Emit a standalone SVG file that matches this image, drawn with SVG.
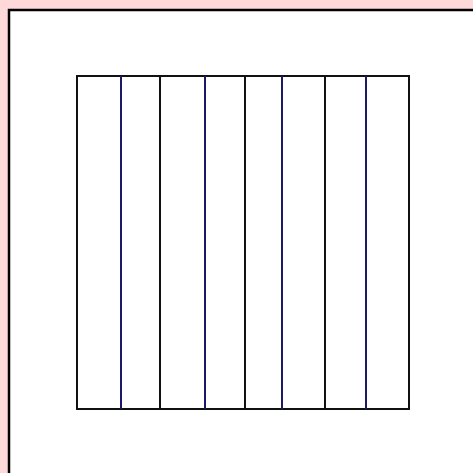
<svg xmlns="http://www.w3.org/2000/svg" width="473" height="473" viewBox="0 0 473 473">
<style>
.k{stroke:#111;stroke-width:2;fill:none}
.b{stroke:#1c1a66;stroke-width:2;fill:none}
</style>
<rect x="0" y="0" width="473" height="473" fill="#ffd9d9"/>
<rect x="9" y="10" width="480" height="480" fill="#fff" stroke="#000" stroke-width="2.5"/>
<g id="grid">
<rect class="k" x="77" y="76" width="332" height="333"/>
<line class="b" x1="121" y1="76" x2="121" y2="409"/>
<line class="k" x1="160" y1="76" x2="160" y2="409"/>
<line class="b" x1="205" y1="76" x2="205" y2="409"/>
<line class="k" x1="245" y1="76" x2="245" y2="409"/>
<line class="b" x1="282" y1="76" x2="282" y2="409"/>
<line class="k" x1="325" y1="76" x2="325" y2="409"/>
<line class="b" x1="366" y1="76" x2="366" y2="409"/>
</g>
</svg>
